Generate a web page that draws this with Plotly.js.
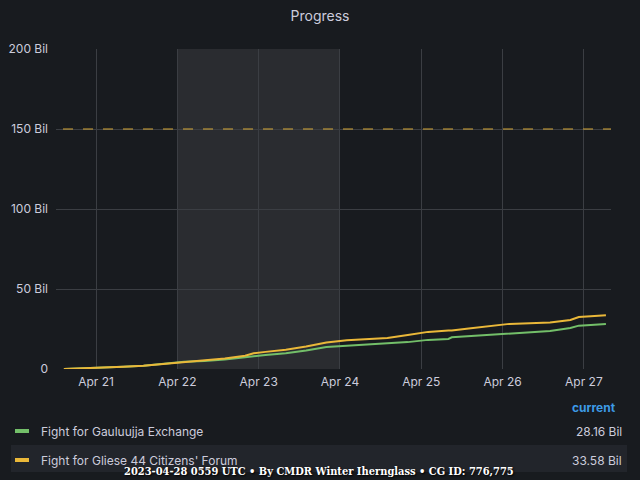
<!DOCTYPE html>
<html>
<head>
<meta charset="utf-8">
<script src="https://cdn.plot.ly/plotly-3.0.1.min.js"></script>
<style>
  html, body { margin: 0; padding: 0; background: #181b1f; }
  #chart { width: 640px; height: 480px; }
</style>
</head>
<body>
<div id="chart"></div>
<script>
// Community goal progress, two factions, values in billions.

const times = [
    '2023-04-20 14:30', '2023-04-20 20:00', '2023-04-21 02:00', '2023-04-21 08:00',
    '2023-04-21 14:00', '2023-04-21 20:00', '2023-04-22 02:00', '2023-04-22 08:00',
    '2023-04-22 14:00', '2023-04-22 20:00', '2023-04-22 22:30', '2023-04-23 02:00',
    '2023-04-23 08:00', '2023-04-23 14:00', '2023-04-23 20:00', '2023-04-24 02:00',
    '2023-04-24 08:00', '2023-04-24 14:00', '2023-04-24 20:00', '2023-04-25 02:00',
    '2023-04-25 08:00', '2023-04-25 09:00', '2023-04-25 14:00', '2023-04-25 20:00',
    '2023-04-26 02:00', '2023-04-26 08:00', '2023-04-26 14:00', '2023-04-26 20:00',
    '2023-04-26 22:30', '2023-04-27 02:00', '2023-04-27 06:30',
];

const gauluujja = [
    0.0, 0.3, 0.8, 1.4, 2.0, 3.3, 4.5, 5.0, 5.9, 7.4, 8.1, 8.8,
    9.9, 11.5, 13.8, 14.5, 15.0, 15.7, 16.8, 18.2, 18.8, 19.8, 20.5, 21.3,
    22.4, 23.0, 23.8, 25.6, 27.1, 27.5, 28.16,
];

const gliese = [
    0.0, 0.3, 0.8, 1.4, 2.0, 3.2, 4.4, 5.3, 6.6, 8.3, 9.8, 10.7,
    12.0, 14.0, 16.5, 17.9, 18.6, 19.4, 21.2, 23.2, 24.0, 24.1, 25.3, 26.8,
    28.2, 28.6, 29.0, 30.6, 32.5, 32.9, 33.58,
];

const seriesNames = ['Fight for Gauluujja Exchange', "Fight for Gliese 44 Citizens' Forum"];
const currentLabels = ['28.16 Bil', '33.58 Bil'];
const yTickVals = [0, 50, 100, 150, 200];
const yTickText = ['0', '50 Bil', '100 Bil', '150 Bil', '200 Bil'];
const threshold = 150;
const shadeStart = '2023-04-22 00:00';
const shadeEnd = '2023-04-24 00:00';
const xRange = ['2023-04-20 12:10', '2023-04-27 08:00'];
const footer = '2023-04-28 0559 UTC • By CMDR Winter Ihernglass • CG ID: 776,775';

const theme = {
    bg: '#181b1f',
    text: '#ccccdc',
    grid: '#3b3e43',
    green: '#73bf69',
    yellow: '#eab839',
    rowBg: '#22252b',
    link: '#3d9ae6',
};

const traces = [
    {
        x: times, y: gauluujja, name: seriesNames[0], type: 'scatter', mode: 'lines',
        line: { color: theme.green, width: 2 }, hoverinfo: 'skip',
    },
    {
        x: times, y: gliese, name: seriesNames[1], type: 'scatter', mode: 'lines',
        line: { color: theme.yellow, width: 2 }, hoverinfo: 'skip',
    },
];

const legendText = { family: 'Inter, Roboto, sans-serif', size: 12, color: theme.text };

const layout = {
    width: 640, height: 480,
    paper_bgcolor: theme.bg,
    plot_bgcolor: theme.bg,
    font: { family: 'Inter, Roboto, sans-serif', color: theme.text, size: 12 },
    title: { text: 'Progress', x: 0.5, xanchor: 'center', y: 1 - 16 / 480, yanchor: 'middle', font: { size: 14, color: theme.text } },
    margin: { l: 56, r: 29, t: 49, b: 111 },
    showlegend: false,
    xaxis: {
        type: 'date', range: xRange,
        tick0: '2023-04-21', dtick: 86400000, tickformat: '%b %d',
        showgrid: true, gridcolor: theme.grid, zeroline: false, showline: false,
        tickfont: { size: 12, color: theme.text }, ticks: '', ticklabelstandoff: 4,
    },
    yaxis: {
        range: [0, 200], tickvals: yTickVals, ticktext: yTickText,
        showgrid: true, gridcolor: theme.grid, zeroline: false, showline: false,
        tickfont: { size: 12, color: theme.text }, ticks: '', ticklabelstandoff: 7,
    },
    shapes: [
        // highlighted time window
        { type: 'rect', xref: 'x', yref: 'paper', x0: shadeStart, x1: shadeEnd, y0: 0, y1: 1,
          fillcolor: 'rgba(255,255,255,0.08)', line: { width: 0 }, layer: 'below' },
        // threshold
        { type: 'line', xref: 'paper', yref: 'y', x0: 7 / 555, x1: 1, y0: threshold, y1: threshold,
          line: { color: 'rgba(234,184,57,0.45)', width: 2, dash: '10px,10px' } },
        // legend swatches + row highlight
        { type: 'rect', xref: 'paper', yref: 'paper', x0: -45 / 555, x1: 571 / 555,
          y0: -103 / 320, y1: -76 / 320, fillcolor: theme.rowBg, line: { width: 0 }, layer: 'below' },
        { type: 'line', xref: 'paper', yref: 'paper', x0: -41 / 555, x1: -27 / 555,
          y0: -62 / 320, y1: -62 / 320, line: { color: theme.green, width: 4 } },
        { type: 'line', xref: 'paper', yref: 'paper', x0: -41 / 555, x1: -27 / 555,
          y0: -91 / 320, y1: -91 / 320, line: { color: theme.yellow, width: 4 } },
    ],
    annotations: [
        { xref: 'paper', yref: 'paper', x: 562 / 555, y: -38 / 320, xanchor: 'right', yanchor: 'middle',
          text: '<b>current</b>', showarrow: false, font: { family: 'Inter, Roboto, sans-serif', size: 12, color: theme.link } },
        { xref: 'paper', yref: 'paper', x: -17 / 555, y: -62 / 320, xanchor: 'left', yanchor: 'middle',
          text: seriesNames[0], showarrow: false, font: legendText },
        { xref: 'paper', yref: 'paper', x: 568 / 555, y: -62 / 320, xanchor: 'right', yanchor: 'middle',
          text: currentLabels[0], showarrow: false, font: legendText },
        { xref: 'paper', yref: 'paper', x: -17 / 555, y: -91 / 320, xanchor: 'left', yanchor: 'middle',
          text: seriesNames[1], showarrow: false, font: legendText },
        { xref: 'paper', yref: 'paper', x: 568 / 555, y: -91 / 320, xanchor: 'right', yanchor: 'middle',
          text: currentLabels[1], showarrow: false, font: legendText },
        // footer, white with dark shadow
        { xref: 'paper', yref: 'paper', x: 263 / 555, y: -102 / 320, xanchor: 'center', yanchor: 'middle',
          text: '<b>' + footer + '</b>', showarrow: false,
          font: { family: '"DejaVu Serif Condensed", "DejaVu Serif", serif', size: 11, color: '#ffffff',
                  shadow: '1px 1px 2px #000000' } },
    ],
};

Plotly.newPlot('chart', traces, layout, { displayModeBar: false, staticPlot: true });
</script>
</body>
</html>
